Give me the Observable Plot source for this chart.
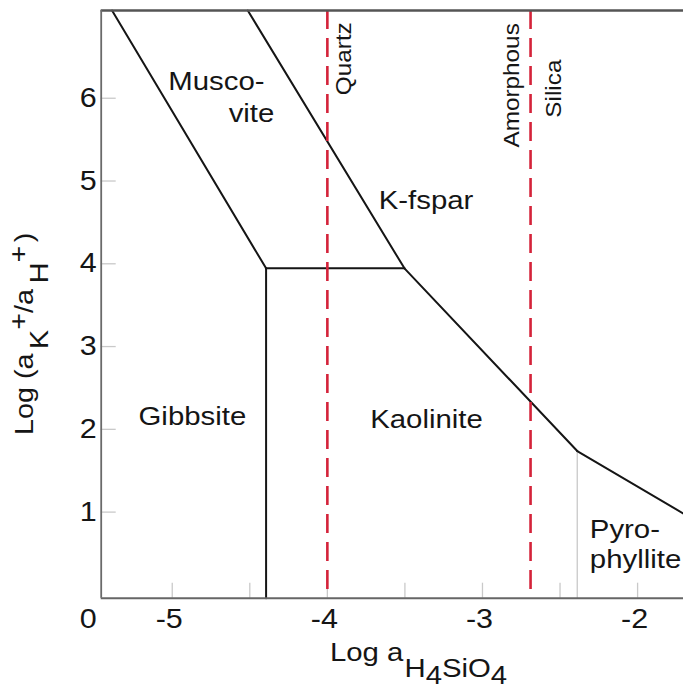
<!DOCTYPE html>
<html>
<head>
<meta charset="utf-8">
<script src="https://cdn.jsdelivr.net/npm/d3@7"></script>
<script src="https://cdn.jsdelivr.net/npm/@observablehq/plot@0.6"></script>
<style>
  html, body { margin: 0; padding: 0; background: #fff; }
  svg { display: block; }
</style>
</head>
<body>
<div id="chart"></div>
<script>
// ---- scale extents (data units) ----
const xDomain = [-5.458, -1.704];
const yDomain = [-0.04, 7.06];

// ---- ticks ----
const xTickValues = [-5, -4.5, -4, -3.5, -3, -2.5, -2];
const xLabelValues = [-5, -4, -3, -2];
const xLabelTexts = ["-5", "-4", "-3", "-2"];
const yTickValues = [1, 2, 3, 4, 5, 6];
const yLabelTexts = ["1", "2", "3", "4", "5", "6"];
const originLabel = "0";

// ---- phase boundaries: log aH4SiO4 (x) vs log(aK+/aH+) (y) ----
const gibbsiteMuscovite    = [{x: -5.388, y: 7.06}, {x: -4.395, y: 3.945}];
const gibbsiteKaolinite    = [{x: -4.395, y: 3.945}, {x: -4.395, y: -0.04}];
const muscoviteKaolinite   = [{x: -4.395, y: 3.945}, {x: -3.503, y: 3.945}];
const muscoviteKfeldspar   = [{x: -4.513, y: 7.06}, {x: -3.503, y: 3.945}];
const kaoliniteKfeldspar   = [{x: -3.503, y: 3.945}, {x: -2.389, y: 1.738}];
const pyrophylliteKfeldspar= [{x: -2.389, y: 1.738}, {x: -1.704, y: 0.982}];
const kaolinitePyrophyllite= [{x: -2.389, y: 1.738}, {x: -2.389, y: -0.04}];

// ---- silica saturation lines ----
const silicaPhases = ["Quartz", "Amorphous Silica"];
const silicaLogA   = [-4.0, -2.69];

// ---- labels ----
const regionNames  = ["Musco-", "vite", "K-fspar", "Gibbsite", "Kaolinite"];
const regionX      = [-4.715, -4.489, -3.364, -4.870, -3.361];
const regionY      = [6.204, 5.811, 4.765, 2.148, 2.112];
const pyroNames    = ["Pyro-", "phyllite"];
const pyroX        = [-2.308, -2.308];
const pyroY        = [0.783, 0.420];
const silicaNames  = ["Quartz", "Amorphous", "Silica"];
const silicaLabelX = [-3.894, -2.811, -2.540];
const silicaLabelY = [6.478, 6.156, 6.116];

const regions = regionNames.map((t, i) => ({t, x: regionX[i], y: regionY[i]}));
const pyro = pyroNames.map((t, i) => ({t, x: pyroX[i], y: pyroY[i]}));
const silicaLabels = silicaNames.map((t, i) => ({t, x: silicaLabelX[i], y: silicaLabelY[i]}));
const xLabels = xLabelValues.map((v, i) => ({v, t: xLabelTexts[i]}));
const yLabels = yTickValues.map((v, i) => ({v, t: yLabelTexts[i]}));

const W = 683, H = 689;
const mL = 100.7, mR = 0, mT = 10, mB = 91.3;
const plotW = W - mL - mR, plotH = H - mT - mB;
const ink = "#151515", grey = "#c9c9c9", red = "#d4233a";

const boundaries = [gibbsiteMuscovite, gibbsiteKaolinite, muscoviteKaolinite,
  muscoviteKfeldspar, kaoliniteKfeldspar, pyrophylliteKfeldspar];

const svg = Plot.plot({
  width: W, height: H,
  marginLeft: mL, marginRight: mR, marginTop: mT, marginBottom: mB,
  x: {domain: xDomain, axis: null},
  y: {domain: yDomain, axis: null},
  style: {fontFamily: "'Liberation Sans', Arial, Helvetica, sans-serif", background: "#fff", overflow: "visible"},
  marks: [
    Plot.tickX(xTickValues, {x: d => d, stroke: grey, strokeWidth: 1.3, insetTop: plotH - 15}),
    Plot.tickY(yTickValues, {y: d => d, stroke: grey, strokeWidth: 1.3, insetRight: plotW - 15}),
    Plot.line(kaolinitePyrophyllite, {x: "x", y: "y", stroke: grey, strokeWidth: 1.3}),
    ...boundaries.map(b => Plot.line(b, {x: "x", y: "y", stroke: ink, strokeWidth: 2})),
    Plot.ruleX(silicaLogA, {x: d => d, stroke: red, strokeWidth: 2.6, strokeDasharray: "19,9"}),
    Plot.ruleY([yDomain[1]], {y: d => d, stroke: "#555", strokeWidth: 2.6}),
    Plot.ruleY([yDomain[0]], {y: d => d, stroke: "#666", strokeWidth: 2}),
    Plot.ruleX([xDomain[0]], {x: d => d, stroke: "#6a6a6a", strokeWidth: 1.8}),
    Plot.text(regions, {x: "x", y: "y", text: "t", fontSize: 26, fill: ink, textAnchor: "middle"}),
    Plot.text(pyro, {x: "x", y: "y", text: "t", fontSize: 26, fill: ink, textAnchor: "start"}),
    Plot.text(silicaLabels, {x: "x", y: "y", text: "t", fontSize: 21.5, fill: ink, rotate: -90}),
    Plot.text(yLabels, {y: "v", text: "t", frameAnchor: "left", textAnchor: "middle", lineAnchor: "middle",
      dx: -13, fontSize: 27, fill: ink}),
    Plot.text(xLabels, {x: "v", text: "t", frameAnchor: "bottom", textAnchor: "middle", lineAnchor: "middle",
      dy: 21, dx: -3, fontSize: 27, fill: ink}),
    Plot.text([originLabel], {text: d => d, frameAnchor: "bottom-left", textAnchor: "middle", lineAnchor: "middle",
      dx: -13, dy: 21, fontSize: 27, fill: ink})
  ]
});

// slightly wide lettering, as in the reference
svg.querySelectorAll("text").forEach(t => {
  const tr = t.getAttribute("transform");
  if (tr) t.setAttribute("transform", tr + " scale(1.13,1)");
});

const s = d3.select(svg);
// x axis title: Log a_{H4SiO4}
const xt = s.append("text")
  .attr("transform", "translate(330,661) scale(1.15,1)")
  .attr("text-anchor", "start")
  .attr("font-size", 25.5).attr("fill", ink)
  .attr("font-family", "'Liberation Sans', Arial, sans-serif");
xt.append("tspan").text("Log a");
xt.append("tspan").attr("dx", 1).attr("dy", 16).text("H");
xt.append("tspan").attr("dy", 7).text("4");
xt.append("tspan").attr("dy", -7).text("SiO");
xt.append("tspan").attr("dy", 7).text("4");

// y axis title: Log (a_K^+ / a_H^+)
const yt = s.append("text")
  .attr("transform", "translate(33,435) rotate(-90) scale(1.15,1)")
  .attr("text-anchor", "start")
  .attr("font-size", 25).attr("fill", ink)
  .attr("font-family", "'Liberation Sans', Arial, sans-serif");
yt.append("tspan").text("Log (a");
yt.append("tspan").attr("dx", 4).attr("dy", 15).text("K");
yt.append("tspan").attr("dy", -21).text("+");
yt.append("tspan").attr("dy", 6).text("/a");
yt.append("tspan").attr("dx", 5).attr("dy", 15).text("H");
yt.append("tspan").attr("dy", -21).text("+");
yt.append("tspan").attr("dx", 3).attr("dy", 6).text(")");

document.getElementById("chart").appendChild(svg);
</script>
</body>
</html>
